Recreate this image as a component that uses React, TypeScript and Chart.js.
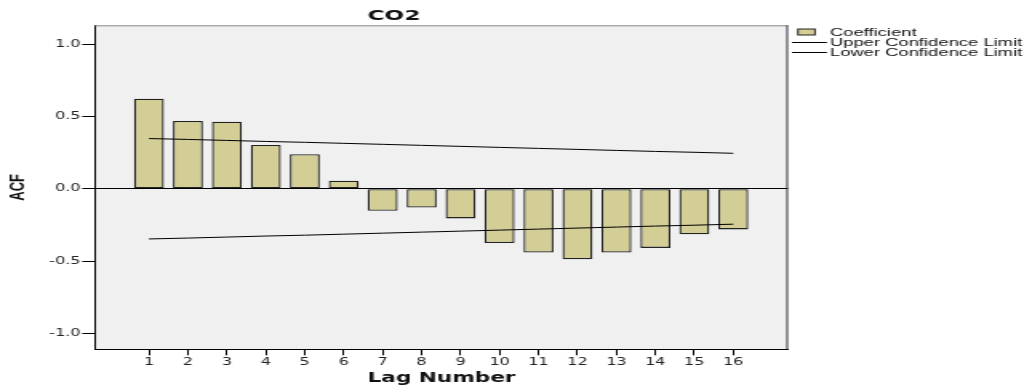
import React, { useEffect, useRef } from 'react';
import { Chart, registerables } from 'chart.js';

Chart.register(...registerables);

// ---- data ----
const chartTitle = 'CO2';
const xAxisTitle = 'Lag Number';
const yAxisTitle = 'ACF';
const lags = [1, 2, 3, 4, 5, 6, 7, 8, 9, 10, 11, 12, 13, 14, 15, 16];
const coefficients = [0.623, 0.469, 0.464, 0.303, 0.239, 0.055, -0.152, -0.13, -0.205, -0.375, -0.441, -0.488, -0.441, -0.409, -0.315, -0.281];
const upperLimit = [0.347, 0.341, 0.334, 0.327, 0.321, 0.314, 0.307, 0.3, 0.293, 0.286, 0.279, 0.272, 0.265, 0.258, 0.252, 0.245];
const lowerLimit = [-0.347, -0.341, -0.334, -0.327, -0.321, -0.314, -0.307, -0.3, -0.293, -0.286, -0.279, -0.272, -0.265, -0.258, -0.252, -0.245];
const yTickValues = [-1, -0.5, 0, 0.5, 1];
const seriesLabels = ['Coefficient', 'Upper Confidence Limit', 'Lower Confidence Limit'];

// ---- layout / style ----
const CSS_W = 1032;
const CSS_H = 389;
const SX = 1.6; // horizontal stretch of the reference
const W = CSS_W / SX;
const BAR_FILL = '#d3ce96';
const BAR_BORDER = '#222';

const plotDecor = {
  id: 'plotDecor',
  beforeDraw(chart: any) {
    const { ctx, chartArea: a } = chart;
    ctx.save();
    ctx.fillStyle = '#f0f0f0';
    ctx.fillRect(a.left, a.top, a.right - a.left, a.bottom - a.top);
    ctx.restore();
  },
  afterDraw(chart: any) {
    const { ctx, chartArea: a } = chart;
    ctx.save();
    ctx.lineWidth = 1;
    ctx.strokeStyle = '#8a8a8a';
    ctx.beginPath();
    ctx.moveTo(a.left, a.top + 0.5);
    ctx.lineTo(a.right, a.top + 0.5);
    ctx.stroke();
    ctx.strokeStyle = '#333';
    ctx.beginPath();
    ctx.moveTo(a.right - 0.5, a.top);
    ctx.lineTo(a.right - 0.5, a.bottom);
    ctx.stroke();

    // legend
    const ds = chart.data.datasets;
    ctx.font = '11.5px "Liberation Sans", Arial, sans-serif';
    ctx.textBaseline = 'middle';
    ctx.textAlign = 'left';
    const textX = 830 / SX;
    ctx.fillStyle = ds[0].backgroundColor;
    ctx.fillRect(798 / SX, 29, 17 / SX, 6);
    ctx.strokeStyle = ds[0].borderColor;
    ctx.lineWidth = 1;
    ctx.strokeRect(798 / SX, 29, 17 / SX, 6);
    ctx.fillStyle = '#111';
    ctx.fillText(ds[0].label, textX, 32.5);
    const rows = [ds[1], ds[2]];
    const ys = [42.5, 52.5];
    rows.forEach((d: any, i: number) => {
      ctx.strokeStyle = d.borderColor;
      ctx.lineWidth = 1;
      ctx.beginPath();
      ctx.moveTo(792 / SX, ys[i]);
      ctx.lineTo(827 / SX, ys[i]);
      ctx.stroke();
      ctx.fillStyle = '#111';
      ctx.fillText(d.label, textX, ys[i]);
    });
    ctx.restore();
  },
};

export default function App() {
  const ref = useRef<HTMLCanvasElement | null>(null);

  useEffect(() => {
    document.body.style.margin = '0';
    const canvas = ref.current;
    if (!canvas) return;
    const chart = new Chart(canvas, {
      type: 'bar',
      data: {
        datasets: [
          {
            type: 'bar',
            label: seriesLabels[0],
            data: lags.map((l, i) => ({ x: l, y: coefficients[i] })),
            backgroundColor: BAR_FILL,
            borderColor: BAR_BORDER,
            borderWidth: 1.3,
            borderSkipped: false,
            categoryPercentage: 1,
            barPercentage: 0.77,
            order: 2,
          } as any,
          {
            type: 'line',
            label: seriesLabels[1],
            data: lags.map((l, i) => ({ x: l, y: upperLimit[i] })),
            borderColor: '#000',
            borderWidth: 1,
            pointRadius: 0,
            fill: false,
            tension: 0,
            order: 1,
          } as any,
          {
            type: 'line',
            label: seriesLabels[2],
            data: lags.map((l, i) => ({ x: l, y: lowerLimit[i] })),
            borderColor: '#000',
            borderWidth: 1,
            pointRadius: 0,
            fill: false,
            tension: 0,
            order: 1,
          } as any,
        ],
      },
      options: {
        responsive: false,
        animation: false,
        layout: { padding: { left: 0, right: W - 788 / SX, top: 0, bottom: 0 } },
        plugins: {
          legend: { display: false },
          tooltip: { enabled: false },
          title: {
            display: true,
            text: chartTitle,
            color: '#111',
            font: { family: '"DejaVu Sans", sans-serif', size: 14.5, weight: 'bold' },
            padding: { top: 7.3, bottom: 0.6 },
          },
        },
        scales: {
          x: {
            type: 'linear',
            min: -0.386,
            max: 17.404,
            offset: false,
            afterFit: (s: any) => { s.height = CSS_H - 349.3; },
            afterBuildTicks: (s: any) => { s.ticks = lags.map((v) => ({ value: v })); },
            grid: { offset: false, drawOnChartArea: false, tickLength: 6, tickColor: '#000', tickWidth: 1 },
            border: { color: '#000', width: 1 },
            ticks: {
              autoSkip: false,
              maxRotation: 0,
              padding: 1,
              color: '#222',
              font: { family: '"DejaVu Sans", sans-serif', size: 10 },
              callback: (v: any) => String(v),
            },
            title: {
              display: true,
              text: xAxisTitle,
              color: '#111',
              font: { family: '"DejaVu Sans", sans-serif', size: 13.5, weight: 'bold' },
              padding: { top: 0, bottom: 2.8 },
            },
          },
          y: {
            type: 'linear',
            min: -1.11,
            max: 1.13,
            afterFit: (s: any) => { s.width = 95 / SX; },
            afterBuildTicks: (s: any) => { s.ticks = yTickValues.map((v) => ({ value: v })); },
            grid: {
              drawOnChartArea: true,
              color: (c: any) => (c.tick && c.tick.value === 0 ? '#000' : 'rgba(0,0,0,0)'),
              tickColor: '#000',
              tickLength: 8,
              lineWidth: 1,
            },
            border: { color: '#000', width: 1 },
            ticks: {
              padding: 1,
              color: '#222',
              font: { family: '"DejaVu Sans", sans-serif', size: 10 },
              callback: (v: any) => Number(v).toFixed(1),
            },
            title: {
              display: true,
              text: yAxisTitle,
              color: '#111',
              font: { family: '"Liberation Sans", Arial, sans-serif', size: 13, weight: 'bold' },
              padding: { top: 4, bottom: 0 },
            },
          },
        },
      },
      plugins: [plotDecor],
    });
    return () => chart.destroy();
  }, []);

  return (
    <canvas
      ref={ref}
      width={W}
      height={CSS_H}
      style={{ width: CSS_W + 'px', height: CSS_H + 'px', display: 'block' }}
    />
  );
}
